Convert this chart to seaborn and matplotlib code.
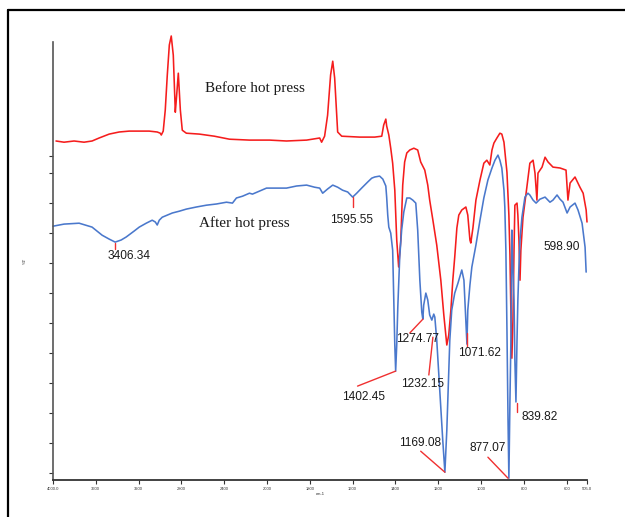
import numpy as np
import pandas as pd
import matplotlib
matplotlib.use("Agg")
import matplotlib.pyplot as plt
from matplotlib.lines import Line2D
import seaborn as sns

# ---------------- data (wavenumber cm-1, transmittance a.u.) ----------------
before_wn = [3972, 3897, 3803, 3710, 3635, 3569, 3475, 3382, 3288, 3194, 3101, 3026,
             2998, 2988, 2970, 2951, 2932, 2913, 2895, 2876, 2857, 2848, 2829, 2810,
             2792, 2754, 2632, 2492, 2351, 2164, 1988, 1909, 1815, 1754, 1745, 1731,
             1717, 1703, 1693, 1684, 1670, 1651, 1567, 1497, 1464, 1455, 1445, 1441,
             1431, 1422, 1413, 1403, 1394, 1385, 1375, 1366, 1357, 1347, 1333, 1314,
             1296, 1282, 1263, 1249, 1240, 1225, 1207, 1188, 1174, 1160, 1151, 1141,
             1132, 1123, 1113, 1104, 1090, 1071, 1062, 1052, 1048, 1038, 1024, 1005,
             987, 973, 959, 949, 940, 926, 912, 903, 893, 879, 870, 865, 860, 856, 851,
             846, 842, 832, 828, 823, 818, 814, 804, 786, 772, 757, 748, 739, 734, 715,
             701, 687, 664, 631, 603, 594, 584, 561, 538, 523, 509, 505]
before_t = [110.7, 110.3, 110.7, 110.3, 110.7, 111.7, 113.0, 113.7, 114.0, 114.0, 114.0, 113.7,
            113.3, 112.7, 114.0, 121.0, 132.7, 142.7, 145.7, 139.3, 120.3, 124.3, 133.3, 121.0,
            114.3, 113.3, 113.0, 112.3, 111.3, 111.0, 111.0, 110.7, 111.0, 111.7, 110.3, 112.3,
            119.3, 132.7, 137.3, 131.7, 113.7, 112.3, 112.0, 112.0, 112.3, 116.0, 118.0, 115.7,
            112.7, 108.3, 103.3, 94.3, 77.7, 68.7, 77.7, 96.0, 103.7, 106.7, 107.7, 108.3,
            107.7, 103.7, 101.0, 96.0, 91.0, 84.3, 76.0, 64.3, 52.7, 42.7, 46.0, 54.3,
            64.3, 72.0, 81.7, 86.0, 87.7, 88.7, 86.0, 77.7, 76.7, 81.7, 91.0, 97.7,
            103.3, 104.3, 102.7, 107.7, 110.0, 111.7, 113.3, 113.0, 110.3, 100.3, 86.0, 72.7, 51.0, 38.3, 51.0,
            74.3, 89.3, 90.0, 86.0, 77.7, 64.3, 74.3, 85.3, 95.3, 103.3, 104.3, 100.0, 91.0, 100.0, 102.0,
            105.3, 103.7, 102.0, 101.7, 101.0, 91.0, 96.7, 98.7, 95.3, 93.3, 87.7, 83.7]

after_wn = [4000, 3897, 3756, 3635, 3541, 3475, 3419, 3363, 3316, 3241, 3194, 3129, 3073,
            3044, 3026, 3007, 2979, 2932, 2885, 2820, 2754, 2660, 2567, 2473, 2379, 2323,
            2286, 2229, 2164, 2136, 2070, 2005, 1956, 1909, 1862, 1815, 1778, 1754, 1740,
            1717, 1693, 1670, 1647, 1623, 1600, 1581, 1558, 1530, 1511, 1497, 1474, 1459,
            1445, 1441, 1436, 1431, 1422, 1413, 1408, 1403, 1399, 1394, 1389, 1380, 1371,
            1361, 1347, 1333, 1319, 1305, 1296, 1286, 1277, 1272, 1268, 1258, 1249, 1240,
            1230, 1221, 1216, 1207, 1193, 1179, 1169, 1160, 1151, 1146, 1137, 1123, 1108,
            1090, 1080, 1071, 1066, 1062, 1052, 1043, 1024, 1005, 987, 968, 949, 935, 921,
            912, 903, 893, 889, 884, 879, 874, 870, 865, 860, 856, 851, 846, 842, 837, 832,
            828, 823, 818, 809, 795, 781, 772, 757, 743, 725, 701, 678, 664, 645, 631, 617,
            598, 584, 561, 547, 528, 514, 509]
after_t = [82.3, 83.0, 83.3, 82.0, 79.3, 78.0, 77.0, 77.7, 78.7, 80.7, 82.0, 83.3, 84.3,
           83.7, 82.7, 84.3, 85.3, 86.0, 86.7, 87.3, 88.0, 88.7, 89.3, 89.7, 90.3, 90.0,
           91.7, 92.3, 93.3, 93.0, 94.0, 95.0, 95.0, 95.0, 95.7, 96.0, 95.3, 95.0, 93.3,
           94.7, 96.0, 95.3, 94.3, 93.7, 92.0, 93.3, 95.0, 97.0, 98.3, 98.7, 99.0, 98.0,
           95.7, 92.0, 86.0, 82.0, 80.0, 74.3, 57.7, 42.7, 34.0, 42.7, 55.3, 72.0, 81.0,
           87.0, 91.7, 91.7, 91.0, 90.0, 81.0, 64.3, 53.7, 51.3, 56.0, 60.0, 57.7, 52.7,
           51.0, 53.0, 52.0, 44.3, 27.7, 11.0, 0.3, 14.3, 34.3, 44.3, 54.3, 60.0, 63.3,
           67.7, 64.3, 51.0, 43.0, 54.3, 62.7, 68.7, 76.0, 84.3, 91.7, 97.7, 101.7, 104.3, 106.0,
           104.3, 101.7, 94.3, 88.7, 74.3, 47.7, 17.7, -1.7, 24.3, 46.7, 81.0, 68.7, 57.7, 37.7, 23.7, 44.3,
           57.7, 68.7, 77.7, 85.3, 92.0, 93.3, 92.7, 91.0, 90.0, 91.3, 92.0, 90.3, 91.0, 92.7, 91.3, 90.3,
           86.7, 88.7, 90.0, 87.7, 83.3, 75.3, 67.0]

x_ticks = [4000, 3600, 3200, 2800, 2400, 2000, 1800, 1600, 1400, 1200, 1000, 800, 600, 505]
x_tick_labels = ["4000.0", "3600", "3200", "2800", "2400", "2000", "1800", "1600",
                 "1400", "1200", "1000", "800", "600", "505.0"]
y_ticks = [0, 10, 20, 30, 40, 50, 60, 70, 80, 90, 100, 105.7]

# peak labels: text, peak (x, y), pointer start (x, y), text centre (x, y)
peak_labels = ["3406.34", "1595.55", "1402.45", "1274.77", "1232.15", "1071.62",
               "1169.08", "877.07", "839.82", "598.90"]
peak_xy = [(3419, 74.7), (1600, 88.7), (1399, 34.0), (1272, 51.3), (1225, 45.3),
           (1066, 42.3), (1169, 0.3), (874, -1.7), (832, 20.3), None]
pointer_start = [(3419, 76.7), (1600, 92.0), (1577, 29.0), (1333, 46.7), (1244, 32.7),
                 (1066, 46.7), (1282, 7.3), (968, 5.3), (832, 23.3), None]
label_pos = [(3288, 72.2), (1605, 84.3), (1548, 25.3), (1296, 44.7), (1272, 29.7),
             (1005, 40.0), (1286, 10.0), (968, 8.3), (725, 18.7), (622, 75.3)]

series_names = ["Before hot press", "After hot press"]
series_label_pos = [(2117, 128.3), (2211, 83.3)]

# ---------------- figure ----------------
sns.set_style("ticks")
plt.rcParams["font.family"] = ["Liberation Sans", "DejaVu Sans"]

fig = plt.figure(figsize=(6.25, 5.17), dpi=100)
ax = fig.add_axes([53 / 625, (517 - 480) / 517, (587 - 53) / 625, (480 - 42) / 517])

df = pd.concat([
    pd.DataFrame({"wavenumber": before_wn, "T": before_t, "sample": series_names[0]}),
    pd.DataFrame({"wavenumber": after_wn, "T": after_t, "sample": series_names[1]}),
])
red = "#f51d1d"
blue = "#4a78cc"
sns.lineplot(data=df, x="wavenumber", y="T", hue="sample",
             palette={series_names[0]: red, series_names[1]: blue},
             estimator=None, sort=False, legend=False, linewidth=1.15, ax=ax,
             clip_on=False)


def fwd(w):
    w = np.asarray(w, dtype=float)
    return np.where(w >= 2000, (w - 2000) / 400.0, (w - 2000) / 200.0)


def inv(u):
    u = np.asarray(u, dtype=float)
    return np.where(u >= 0, 2000 + 400.0 * u, 2000 + 200.0 * u)


ax.set_xscale("function", functions=(fwd, inv))
ax.set_xlim(4000, 505)
ax.set_ylim(-2.3, 143.7)
ax.set_xticks(x_ticks)
ax.set_xticklabels(x_tick_labels)
ax.set_yticks(y_ticks)
ax.set_yticklabels([])
ax.minorticks_off()

for s in ["top", "right"]:
    ax.spines[s].set_visible(False)
ax.spines["left"].set_color("#555555")
ax.spines["left"].set_linewidth(1.2)
ax.spines["bottom"].set_color("#333333")
ax.spines["bottom"].set_linewidth(1.3)
ax.tick_params(axis="x", direction="out", length=3, width=0.8, labelsize=3,
               colors="#333333", pad=2)
ax.tick_params(axis="y", direction="out", length=3, width=0.8, colors="#333333")
ax.set_xlabel("cm-1", fontsize=3, labelpad=1)
ax.set_ylabel("%T", fontsize=3, labelpad=12)

# series labels
for name, (tx, ty) in zip(series_names, series_label_pos):
    ax.text(tx, ty, name, family=["Liberation Serif", "DejaVu Serif"], fontsize=11,
            ha="center", va="center", color="#1a1a1a")

# peak annotations
for lab, p, s, (tx, ty) in zip(peak_labels, peak_xy, pointer_start, label_pos):
    if p is not None:
        ax.plot([s[0], p[0]], [s[1], p[1]], color="#f03030", linewidth=1.0,
                clip_on=False)
    ax.text(tx, ty, lab, fontsize=8.6, ha="center", va="center", color="#1a1a1a")

# frame lines of the surrounding box
fig.add_artist(Line2D([8 / 625, 1.0], [1 - 10 / 517, 1 - 10 / 517],
                      transform=fig.transFigure, color="black", linewidth=1.6))
fig.add_artist(Line2D([8 / 625, 8 / 625], [0, 1 - 10 / 517],
                      transform=fig.transFigure, color="black", linewidth=1.6))

fig.savefig("out.png", dpi=100)
